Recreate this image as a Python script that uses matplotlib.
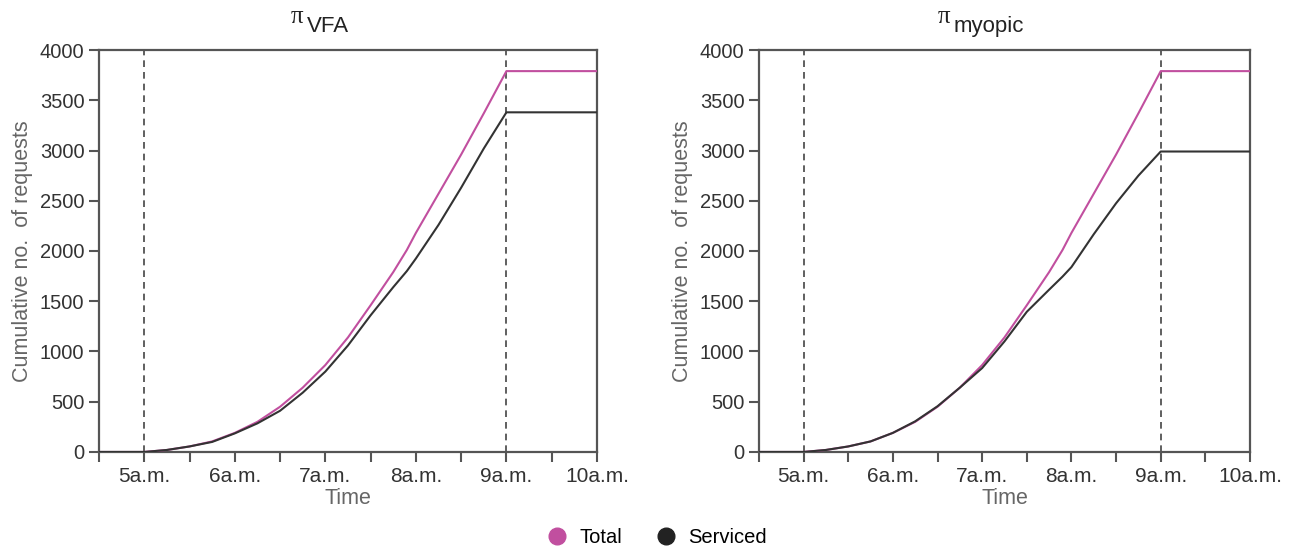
import matplotlib
matplotlib.use("Agg")
import matplotlib.pyplot as plt
from matplotlib.lines import Line2D
import numpy as np

plt.rcParams['font.family'] = ['Liberation Sans', 'DejaVu Sans']

# hours since midnight (5.0 = 5 a.m.)
hours = [4.5, 5.0, 5.25, 5.5, 5.75, 6.0, 6.25, 6.5, 6.75, 7.0, 7.25, 7.5,
         7.75, 7.9, 8.0, 8.25, 8.5, 8.75, 9.0, 10.0]

total = [0, 0, 20, 55, 105, 190, 300, 450, 640, 865, 1140, 1460,
         1790, 2010, 2180, 2570, 2960, 3370, 3790, 3790]
serviced_vfa = [0, 0, 20, 55, 100, 185, 285, 410, 590, 800, 1060, 1360,
                1640, 1800, 1925, 2260, 2630, 3020, 3380, 3380]
serviced_myopic = [0, 0, 20, 55, 105, 190, 305, 455, 640, 835, 1100, 1395,
                   1615, 1745, 1840, 2167, 2475, 2750, 2990, 2990]

panels = [("VFA", serviced_vfa), ("myopic", serviced_myopic)]
major_hours = [5, 6, 7, 8, 9, 10]
hour_labels = ["5a.m.", "6a.m.", "7a.m.", "8a.m.", "9a.m.", "10a.m."]
y_ticks = [0, 500, 1000, 1500, 2000, 2500, 3000, 3500, 4000]

PINK = "#c14f9f"
DARK = "#333333"
AXC = "#555555"

fig = plt.figure(figsize=(13.04, 5.46), dpi=100)
boxes = [[0.0759, 0.1722, 0.3819, 0.7362], [0.582, 0.1722, 0.3766, 0.7362]]
title_x = [0.41, 0.389]

for i, (name, serv) in enumerate(panels):
    ax = fig.add_axes(boxes[i])
    ax.plot(hours, total, color=PINK, lw=1.5, zorder=3)
    ax.plot(hours, serv, color=DARK, lw=1.5, zorder=3)
    for h in [5, 9]:
        ax.axvline(h, color="#444444", lw=1.2, ls=(0, (4, 3)), zorder=2)

    ax.set_xlim(4.5, 10)
    ax.set_ylim(0, 4000)
    ax.set_xticks(major_hours)
    ax.set_xticklabels(hour_labels)
    ax.set_xticks(np.arange(4.5, 10.01, 1.0), minor=True)
    ax.set_yticks(y_ticks)
    for s in ax.spines.values():
        s.set_color(AXC)
        s.set_linewidth(1.6)
    ax.tick_params(which="both", direction="out", length=7, width=1.5,
                   color=AXC, labelcolor="#333333")
    ax.tick_params(axis="y", labelsize=14.5)
    ax.tick_params(axis="x", which="major", pad=4, labelsize=15)
    ax.set_xlabel("Time", fontsize=15.5, color="#666666", labelpad=1)
    ax.set_ylabel("Cumulative no.  of requests", fontsize=15.5,
                  color="#666666", labelpad=5)

    ax.text(title_x[i], 1.067, "π", transform=ax.transAxes, ha="right",
            va="baseline", fontsize=18, family="Liberation Serif", color="#222222")
    ax.text(title_x[i] + 0.008, 1.045, name, transform=ax.transAxes, ha="left",
            va="baseline", fontsize=16, color="#222222")

handles = [Line2D([], [], ls="", marker="o", ms=12, color=PINK, label="Total"),
           Line2D([], [], ls="", marker="o", ms=12, color="#222222", label="Serviced")]
fig.legend(handles=handles, loc="lower center", ncol=2, frameon=False,
           fontsize=14.5, bbox_to_anchor=(0.5, -0.035), handletextpad=0.1,
           columnspacing=1.2)

fig.savefig("out.png", dpi=100)
